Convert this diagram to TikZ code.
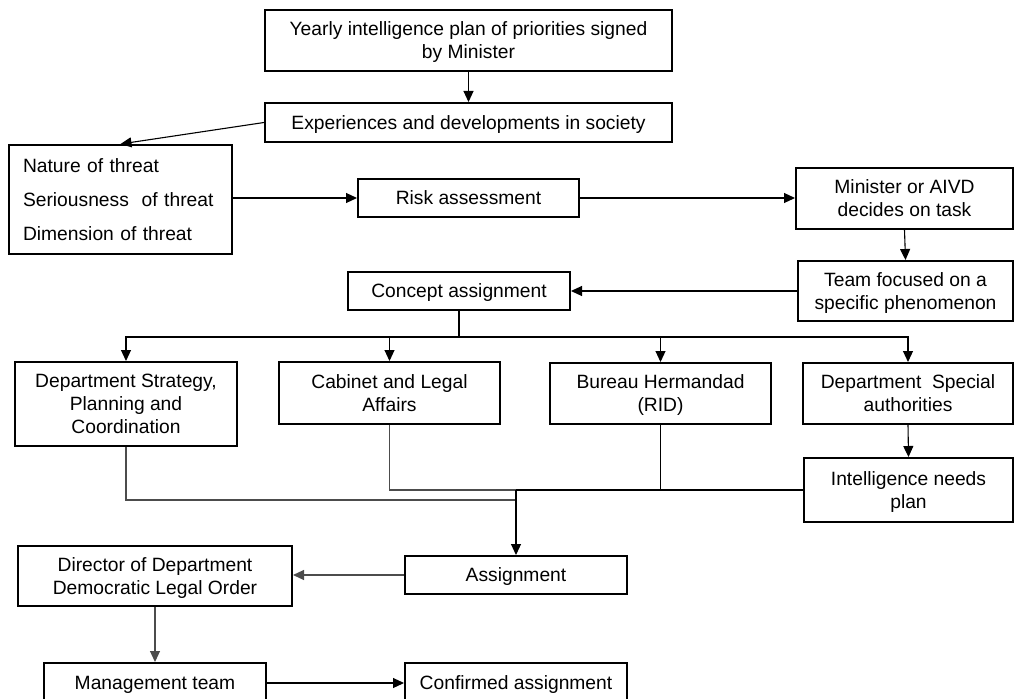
\documentclass[tikz,border=0pt]{standalone}
\usepackage{fontspec}
\setmainfont{Liberation Sans}
\usetikzlibrary{arrows.meta,calc}
\begin{document}
\begin{tikzpicture}[x=1pt,y=-1pt,
  frame/.style={draw, line width=2pt, inner sep=0pt,
    font=\fontsize{19.25}{23}\selectfont},
  box/.style={frame, align=center, text depth=0pt},
  line/.style={line width=1.1pt},
  grayline/.style={line width=1.1pt, draw=black!70},
  arr/.style={line width=1.1pt, -{Triangle[length=11pt,width=10pt]}},
  grayarr/.style={arr, draw=black!70, fill=black}
]
\useasboundingbox (0,0) rectangle (1016,698);

\node[box, minimum width=407pt, minimum height=61pt] (yearly) at (468.5,40.5)
  {Yearly intelligence plan of priorities signed\\by Minister};
\node[box, minimum width=407pt, minimum height=39pt] (exper) at (468.5,122.5)
  {Experiences and developments in society};
\node[frame, minimum width=223pt, minimum height=109pt, text width=195pt,
  align=left, inner xsep=14pt, font=\fontsize{19.25}{34}\selectfont] (nature) at (120.5,199.5)
  {Nature of threat\\Seriousness~ of threat\\Dimension of threat};
\node[box, minimum width=221pt, minimum height=38pt] (risk) at (468.5,198)
  {Risk assessment};
\node[box, minimum width=217pt, minimum height=61pt] (minister) at (904.5,198.5)
  {Minister or AIVD\\decides on task};
\node[box, minimum width=215pt, minimum height=60pt] (team) at (905.5,291)
  {Team focused on a\\specific phenomenon};
\node[box, minimum width=222pt, minimum height=38pt] (concept) at (459,291)
  {Concept assignment};
\node[box, minimum width=222pt, minimum height=84pt] (dspc) at (126,404)
  {Department Strategy,\\Planning and\\Coordination};
\node[box, minimum width=221pt, minimum height=62pt] (cabinet) at (389.5,393)
  {Cabinet and Legal\\Affairs};
\node[box, minimum width=221pt, minimum height=61pt] (bureau) at (660.5,393.5)
  {Bureau Hermandad\\(RID)};
\node[box, minimum width=210pt, minimum height=61pt] (special) at (908,393.5)
  {Department~ Special\\authorities};
\node[box, minimum width=209pt, minimum height=64pt] (intel) at (908.5,490)
  {Intelligence needs\\plan};
\node[box, minimum width=222pt, minimum height=38pt] (assign) at (516,575)
  {Assignment};
\node[box, minimum width=274pt, minimum height=60pt] (director) at (155,576)
  {Director of Department\\Democratic Legal Order};
\node[box, minimum width=222pt, minimum height=40pt] (mgmt) at (155,683)
  {Management team};
\node[box, minimum width=222pt, minimum height=40pt] (confirmed) at (516,683)
  {Confirmed assignment};

% top chain
\draw[arr] (yearly.south) -- (exper.north);
\draw[arr] (exper.west) -- (nature.north);
\draw[arr] (nature.east |- risk.west) -- (risk.west);
\draw[arr] (risk.east) -- (minister.west |- risk.east);
\draw[arr] (minister.south) -- (team.north);
\draw[arr] (team.west) -- (concept.east |- team.west);

% branches
\coordinate (br) at ($(concept.south)+(0,26)$);
\draw[line] (concept.south) -- (br);
\draw[arr] (br) -| (dspc.north);
\draw[arr] (br) -| (cabinet.north);
\draw[arr] (br) -| (bureau.north);
\draw[arr] (br) -| (special.north);
\draw[arr] (special.south) -- (intel.north);

% merge
\coordinate (j1) at (assign.north |- intel.west);
\coordinate (j2) at ($(j1)+(0,10)$);
\draw[grayline] (cabinet.south) |- (j1);
\draw[line] (j1) -- (intel.west);
\draw[line] (bureau.south) -- (bureau.south |- intel.west);
\draw[grayline] (dspc.south) |- (j2);
\draw[arr] (j1) -- (assign.north);

% bottom
\draw[grayarr] (assign.west) -- (director.east |- assign.west);
\draw[grayarr] (director.south) -- (mgmt.north);
\draw[arr] (mgmt.east) -- (confirmed.west);
\end{tikzpicture}
\end{document}
